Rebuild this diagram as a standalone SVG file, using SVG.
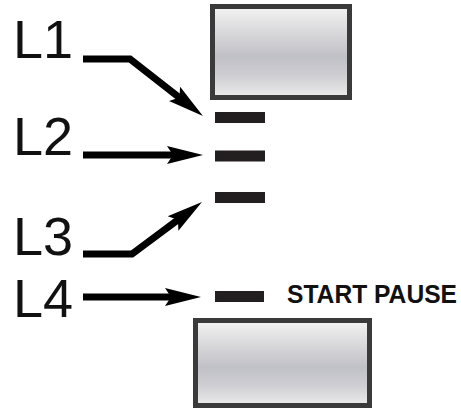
<svg xmlns="http://www.w3.org/2000/svg" width="461" height="409" viewBox="0 0 461 409">
<style>
.lbl{font-family:"Liberation Sans",Arial,sans-serif;font-size:54px;fill:#111}
.btn{fill:url(#g);stroke:#3a3a3a;stroke-width:5}
.dash{fill:#231f20}
.ln{fill:none;stroke:#000;stroke-width:7;stroke-linejoin:miter}
.cap{font-family:"Liberation Sans",Arial,sans-serif;font-weight:bold;font-size:25px;fill:#111}
</style>
<defs>
<linearGradient id="g" x1="0" y1="0" x2="0" y2="1">
<stop offset="0" stop-color="#f4f4f4"/>
<stop offset="0.12" stop-color="#e8e8e8"/>
<stop offset="0.55" stop-color="#c0c0c7"/>
<stop offset="0.75" stop-color="#cdcdd2"/>
<stop offset="1" stop-color="#ececec"/>
</linearGradient>
<marker id="ah" markerUnits="userSpaceOnUse" markerWidth="40" markerHeight="24" refX="16" refY="12" orient="auto" viewBox="0 0 40 24">
<path d="M0,3 L36,12 L0,21 L6,12 z" fill="#000"/>
</marker>
</defs>
<g id="top-button"><rect class="btn" x="212.5" y="6.5" width="137" height="91"/></g>
<g id="bottom-button"><rect class="btn" x="195.5" y="320.5" width="174" height="85"/></g>
<g id="led1"><rect class="dash" x="215" y="112" width="50" height="11"/></g>
<g id="led2"><rect class="dash" x="215" y="150.5" width="50" height="11"/></g>
<g id="led3"><rect class="dash" x="215" y="192" width="50" height="11"/></g>
<g id="led4"><rect class="dash" x="215" y="291" width="49" height="11"/>
<text class="cap" x="287" y="303" textLength="170" lengthAdjust="spacingAndGlyphs">START PAUSE</text></g>
<g id="label-L1"><text class="lbl" x="13" y="58">L1</text></g>
<g id="label-L2"><text class="lbl" x="13" y="155">L2</text></g>
<g id="label-L3"><text class="lbl" x="13" y="255">L3</text></g>
<g id="label-L4"><text class="lbl" x="13" y="317">L4</text></g>
<g id="connectors">
<path class="ln" d="M83,59 H130 L187.2,103.7" marker-end="url(#ah)"/>
<path class="ln" d="M83,155 H183" marker-end="url(#ah)"/>
<path class="ln" d="M83,254 H132 L185.9,213.9" marker-end="url(#ah)"/>
<path class="ln" d="M83,297 H181" marker-end="url(#ah)"/>
</g>
</svg>
